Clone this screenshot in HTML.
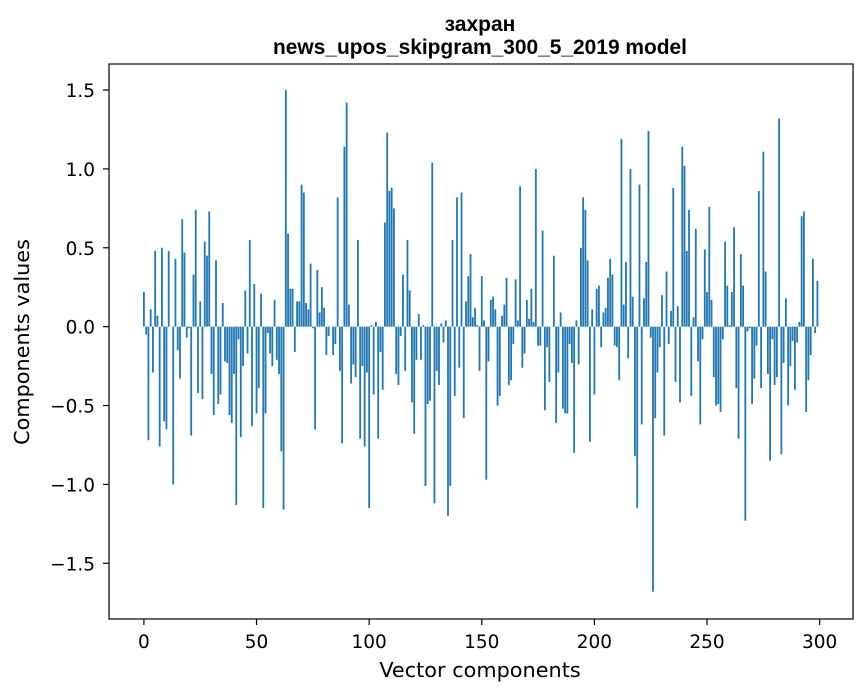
<!DOCTYPE html>
<html><head><meta charset="utf-8"><style>
html,body{margin:0;padding:0;background:#fff;}
svg{display:block;font-family:"DejaVu Sans","Liberation Sans",sans-serif;}
</style></head><body>
<svg id="chart" width="867" height="696" viewBox="0 0 867 696">
<rect width="867" height="696" fill="#fff"/>
<text x="480" y="31" text-anchor="middle" font-size="21" font-weight="bold" font-family="Liberation Sans, sans-serif">захран</text>
<text x="480" y="54" text-anchor="middle" font-size="21" font-weight="bold" font-family="Liberation Sans, sans-serif" textLength="414" lengthAdjust="spacingAndGlyphs">news_upos_skipgram_300_5_2019 model</text>
<g id="bars"></g>
<g id="axes"></g>
<text x="480" y="677" text-anchor="middle" font-size="20.8">Vector components</text>
<text transform="translate(29,342) rotate(-90)" text-anchor="middle" font-size="20.8">Components values</text>
</svg>
<script>
const values = [
0.22,-0.05,-0.72,0.11,-0.29,0.48,0.07,-0.76,0.50,-0.60,
-0.65,0.48,0,-1.0,0.43,-0.15,-0.33,0.68,0.47,-0.07,
-0.01,-0.69,0.33,0.74,-0.42,0.16,-0.46,0.54,0.45,0.73,
-0.30,-0.56,0.42,-0.49,-0.43,0.15,-0.22,-0.23,-0.56,-0.61,
-0.30,-1.13,-0.08,-0.70,-0.25,0.23,-0.17,0.55,-0.63,0.27,
-0.55,-0.39,0.21,-1.15,-0.55,-0.04,-0.17,-0.25,0.17,-0.21,
-0.30,-0.79,-1.16,1.50,0.59,0.24,0.24,-0.16,0.16,0.16,
0.90,0.85,0.15,0.11,0.40,-0.01,-0.65,0.36,0.09,0.25,
0.12,-0.18,-0.06,0,-0.18,-0.11,0.82,-0.28,-0.74,1.14,
1.42,0.14,-0.36,-0.24,-0.32,0.55,-0.71,-0.25,-0.76,-0.29,
-1.15,0.01,-0.43,0.03,-0.71,-0.16,-0.40,0.66,1.23,0.86,
0.88,0.75,-0.30,-0.37,-0.06,0.33,-0.28,0.55,0.23,-0.48,
-0.68,-0.21,0.08,-0.21,0.01,-1.01,-0.49,-0.47,1.04,-1.12,
-0.28,-0.37,0.02,-0.10,0.04,-1.20,-1.01,0.55,-0.44,0.82,
-0.26,0.85,-0.58,0.16,0.32,0.46,0.06,0.12,0.01,-0.28,
0.32,0.04,-0.97,-0.22,0.17,0.19,0.11,-0.50,-0.44,0.07,
0.14,0.31,-0.37,-0.34,-0.11,0.30,0.04,0.89,-0.26,-0.17,
0.17,0.05,0.24,0.03,1.00,-0.12,-0.12,0.61,-0.53,-0.13,
-0.35,0,0.45,-0.61,-0.29,0.09,-0.52,-0.55,-0.55,-0.11,
-0.23,-0.80,0.04,-0.24,0.50,0.82,0.74,0.42,-0.73,0.11,
-0.43,0.24,0.26,-0.13,0.09,0.12,0.31,0.43,0.33,-0.12,
-0.13,-0.34,1.19,0.14,0.41,-0.20,1.00,0.19,-0.82,-1.15,
0.90,-0.62,0.18,0.41,1.24,-0.07,-1.68,-0.58,-0.29,-0.13,
0.20,-0.69,0.35,-0.11,0.10,0.88,-0.35,0.13,-0.48,1.14,
1.02,0.48,0.74,-0.44,0.06,0.62,-0.22,-0.62,-0.08,0.49,
0.22,0.76,0.17,-0.32,-0.50,-0.49,-0.54,-0.08,0.54,0.26,
0.01,0.22,0.63,-0.39,-0.71,0.46,0.26,-1.23,-0.03,-0.01,
-0.49,-0.33,-0.12,0.86,-0.39,1.11,0.35,-0.30,-0.85,-0.08,
-0.37,-0.32,1.32,-0.81,-0.23,0.18,-0.50,-0.25,-0.09,-0.40,
-0.10,0.03,0.70,0.73,-0.54,-0.34,-0.18,0.43,-0.04,0.29
];
const xTicks = [0,50,100,150,200,250,300];
const yTicks = [-1.5,-1.0,-0.5,0.0,0.5,1.0,1.5];
const yTickLabels = ["\u22121.5","\u22121.0","\u22120.5","0.0","0.5","1.0","1.5"];

const NS = "http://www.w3.org/2000/svg";
const L = 109, R = 853, T = 64, B = 619;
const xMin = -15.5, xMax = 314.8;
const yMin = -1.853, yMax = 1.665;
function X(v){ return L + (v - xMin) / (xMax - xMin) * (R - L); }
function Y(v){ return B - (v - yMin) / (yMax - yMin) * (B - T); }

const gb = document.getElementById('bars');
values.forEach((v, i) => {
  const r = document.createElementNS(NS, 'rect');
  const x0 = X(i - 0.4), x1 = X(i + 0.4);
  const y0 = Y(Math.max(v, 0)), y1 = Y(Math.min(v, 0));
  r.setAttribute('x', x0);
  r.setAttribute('width', x1 - x0);
  r.setAttribute('y', y0);
  r.setAttribute('height', Math.max(y1 - y0, 0));
  r.setAttribute('fill', '#1f77b4');
  
  
  gb.appendChild(r);
});

const ga = document.getElementById('axes');
const frame = document.createElementNS(NS, 'rect');
frame.setAttribute('x', L); frame.setAttribute('y', T);
frame.setAttribute('width', R - L); frame.setAttribute('height', B - T);
frame.setAttribute('fill', 'none'); frame.setAttribute('stroke', '#000'); frame.setAttribute('stroke-width', '1.2');


ga.appendChild(frame);

xTicks.forEach(t => {
  const x = X(t);
  const ln = document.createElementNS(NS, 'line');
  ln.setAttribute('x1', x); ln.setAttribute('x2', x);
  ln.setAttribute('y1', B); ln.setAttribute('y2', B + 6);
  ln.setAttribute('stroke', '#000'); ln.setAttribute('stroke-width', '1.2');
  
  
  ga.appendChild(ln);
  const tx = document.createElementNS(NS, 'text');
  tx.setAttribute('x', x); tx.setAttribute('y', 648);
  tx.setAttribute('text-anchor', 'middle'); tx.setAttribute('font-size', '18.5');
  tx.textContent = String(t);
  
  
  ga.appendChild(tx);
});
yTicks.forEach((t, k) => {
  const y = Y(t);
  const ln = document.createElementNS(NS, 'line');
  ln.setAttribute('x1', L - 6); ln.setAttribute('x2', L);
  ln.setAttribute('y1', y); ln.setAttribute('y2', y);
  ln.setAttribute('stroke', '#000'); ln.setAttribute('stroke-width', '1.2');
  
  
  ga.appendChild(ln);
  const tx = document.createElementNS(NS, 'text');
  tx.setAttribute('x', L - 14); tx.setAttribute('y', y + 7);
  tx.setAttribute('text-anchor', 'end'); tx.setAttribute('font-size', '18.5');
  tx.textContent = yTickLabels[k];
  
  
  ga.appendChild(tx);
});
</script>
</body></html>
